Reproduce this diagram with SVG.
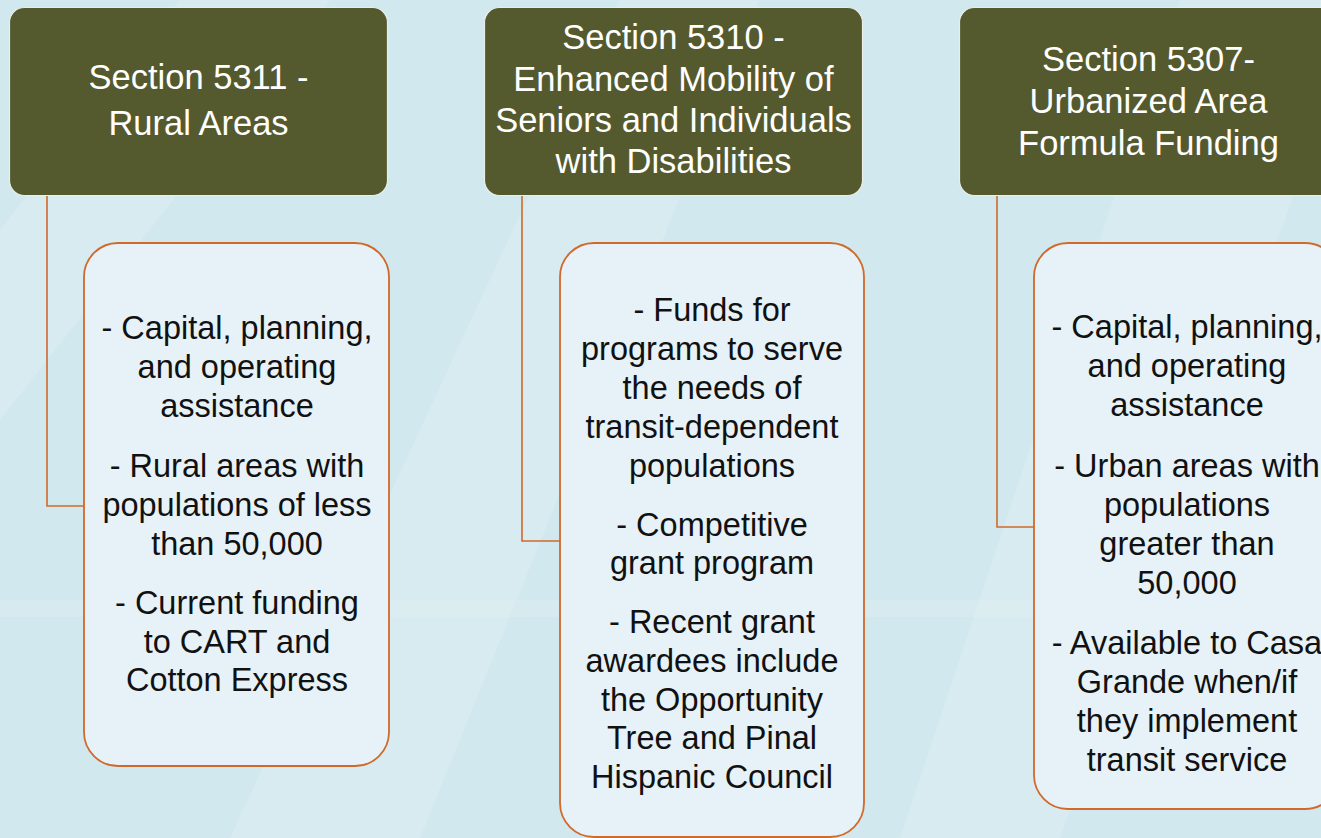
<svg xmlns="http://www.w3.org/2000/svg" width="1321" height="838" viewBox="0 0 1321 838">
  <style>
    .hdr { fill: #555a2e; stroke: #e9efe6; stroke-width: 1.2; }
    .hdr-t { font-family: "Liberation Sans", Arial, sans-serif; font-size: 34.5px; fill: #ffffff; text-anchor: middle; }
    .body { fill: #e6f2f7; stroke: #d0692a; stroke-width: 1.8; }
    .body-t { font-family: "Liberation Sans", Arial, sans-serif; font-size: 32.5px; fill: #111111; text-anchor: middle; }
    .conn { fill: none; stroke: #d0692a; stroke-width: 1.6; }
    .bg-band { fill: #ffffff; opacity: 0.14; }
  </style>
  <rect x="0" y="0" width="1321" height="838" fill="#d2e8ef"/>
  <g id="background">
    <polygon class="bg-band" points="0,230 180,0 330,0 0,420"/>
    <polygon class="bg-band" points="230,838 620,0 760,0 420,838"/>
    <polygon class="bg-band" points="900,838 1180,0 1321,0 1321,120 1060,838"/>
    <rect x="0" y="600" width="1321" height="17" fill="#ffffff" opacity="0.1"/>
  </g>

  <g id="connectors">
    <polyline class="conn" points="47,196 47,506 84,506"/>
    <polyline class="conn" points="522,196 522,541 560,541"/>
    <polyline class="conn" points="997,196 997,527 1034,527"/>
  </g>

  <g id="header-5311">
    <rect class="hdr" x="9.5" y="7.5" width="378" height="188" rx="15" ry="15"/>
    <text class="hdr-t" x="198.5" y="89">Section 5311 -</text>
    <text class="hdr-t" x="198.5" y="135">Rural Areas</text>
  </g>

  <g id="header-5310">
    <rect class="hdr" x="484.5" y="7.5" width="378" height="188" rx="15" ry="15"/>
    <text class="hdr-t" x="673.5" y="49">Section 5310 -</text>
    <text class="hdr-t" x="673.5" y="91">Enhanced Mobility of</text>
    <text class="hdr-t" x="673.5" y="132">Seniors and Individuals</text>
    <text class="hdr-t" x="673.5" y="173">with Disabilities</text>
  </g>

  <g id="header-5307">
    <rect class="hdr" x="959.5" y="7.5" width="378" height="188" rx="15" ry="15"/>
    <text class="hdr-t" x="1148.5" y="71">Section 5307-</text>
    <text class="hdr-t" x="1148.5" y="113">Urbanized Area</text>
    <text class="hdr-t" x="1148.5" y="155">Formula Funding</text>
  </g>

  <g id="body-5311">
    <rect class="body" x="84" y="243" width="305" height="523" rx="34" ry="34"/>
    <text class="body-t" x="237" y="339">- Capital, planning,</text>
    <text class="body-t" x="237" y="378">and operating</text>
    <text class="body-t" x="237" y="417">assistance</text>
    <text class="body-t" x="237" y="477">- Rural areas with</text>
    <text class="body-t" x="237" y="516">populations of less</text>
    <text class="body-t" x="237" y="555">than 50,000</text>
    <text class="body-t" x="237" y="614">- Current funding</text>
    <text class="body-t" x="237" y="653">to CART and</text>
    <text class="body-t" x="237" y="691">Cotton Express</text>
  </g>

  <g id="body-5310">
    <rect class="body" x="560" y="243" width="304" height="594" rx="34" ry="34"/>
    <text class="body-t" x="712" y="321">- Funds for</text>
    <text class="body-t" x="712" y="360">programs to serve</text>
    <text class="body-t" x="712" y="399">the needs of</text>
    <text class="body-t" x="712" y="438">transit-dependent</text>
    <text class="body-t" x="712" y="477">populations</text>
    <text class="body-t" x="712" y="536">- Competitive</text>
    <text class="body-t" x="712" y="574">grant program</text>
    <text class="body-t" x="712" y="633">- Recent grant</text>
    <text class="body-t" x="712" y="672">awardees include</text>
    <text class="body-t" x="712" y="711">the Opportunity</text>
    <text class="body-t" x="712" y="749">Tree and Pinal</text>
    <text class="body-t" x="712" y="788">Hispanic Council</text>
  </g>

  <g id="body-5307">
    <rect class="body" x="1034" y="243" width="305" height="566" rx="34" ry="34"/>
    <text class="body-t" x="1187" y="338">- Capital, planning,</text>
    <text class="body-t" x="1187" y="377">and operating</text>
    <text class="body-t" x="1187" y="416">assistance</text>
    <text class="body-t" x="1187" y="477">- Urban areas with</text>
    <text class="body-t" x="1187" y="516">populations</text>
    <text class="body-t" x="1187" y="555">greater than</text>
    <text class="body-t" x="1187" y="594">50,000</text>
    <text class="body-t" x="1187" y="654">- Available to Casa</text>
    <text class="body-t" x="1187" y="693">Grande when/if</text>
    <text class="body-t" x="1187" y="732">they implement</text>
    <text class="body-t" x="1187" y="771">transit service</text>
  </g>
</svg>
